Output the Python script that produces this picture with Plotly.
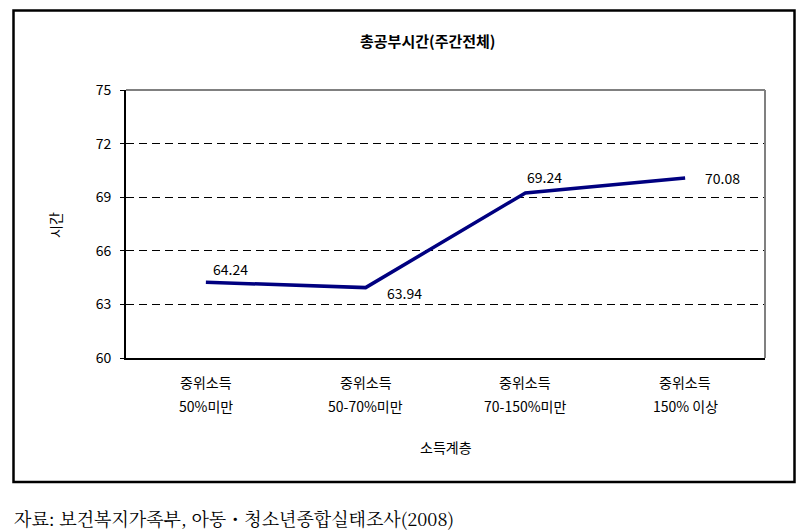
import plotly.graph_objects as go

categories = ["50%미만", "50-70%미만", "70-150%미만", "150% 이상"]
category_prefix = ["중위소득", "중위소득", "중위소득", "중위소득"]
values = [64.24, 63.94, 69.24, 70.08]
label_dx = [25, 39, 19, 37]
label_dy = [13, -5, 16, 0]
y_ticks = [60, 63, 66, 69, 72, 75]

FONT = "Noto Sans CJK KR"

fig = go.Figure()
fig.add_trace(go.Scatter(
    x=categories, y=values, mode="lines",
    line=dict(color="#000080", width=3.5),
    showlegend=False, hoverinfo="skip",
))

for c, v, dx, dy in zip(categories, values, label_dx, label_dy):
    fig.add_annotation(x=c, y=v, text=f"{v:.2f}", showarrow=False,
                       xshift=dx, yshift=dy, xanchor="center", yanchor="middle",
                       font=dict(family=FONT, size=14, color="#000000"))

L, R, T, B = 126, 42, 90, 173
W, H = 807, 531
pw, ph = W - L - R, H - T - B

def px(x):
    return (x - L) / pw

def py(y):
    return (H - B - y) / ph

# two-line category labels
for c, pre in zip(categories, category_prefix):
    fig.add_annotation(x=c, xref="x", yref="paper", y=py(382), text=pre, showarrow=False,
                       xanchor="center", yanchor="middle",
                       font=dict(family=FONT, size=14, color="#000000"))
    fig.add_annotation(x=c, xref="x", yref="paper", y=py(406), text=c, showarrow=False,
                       xanchor="center", yanchor="middle",
                       font=dict(family=FONT, size=14, color="#000000"))

# outer frame
fig.add_shape(type="rect", xref="paper", yref="paper",
              x0=px(13.5), x1=px(794.5), y0=py(482), y1=py(10.5),
              line=dict(color="#000000", width=2.5), layer="below")
# plot area top/right gray border
fig.add_shape(type="line", xref="paper", yref="paper", x0=0, x1=1, y0=1, y1=1,
              line=dict(color="#808080", width=2))
fig.add_shape(type="line", xref="paper", yref="paper", x0=1, x1=1, y0=0, y1=1,
              line=dict(color="#808080", width=2))

fig.add_annotation(xref="paper", yref="paper", x=px(428), y=py(40),
                   xanchor="center", yanchor="middle",
                   text="<b>총공부시간(주간전체)</b>", showarrow=False,
                   font=dict(family=FONT, size=15, color="#000000"))
fig.add_annotation(xref="paper", yref="paper", x=px(55), y=py(225),
                   xanchor="center", yanchor="middle",
                   text="시간", textangle=-90, showarrow=False,
                   font=dict(family=FONT, size=14, color="#000000"))
fig.add_annotation(xref="paper", yref="paper", x=px(446), y=py(447),
                   xanchor="center", yanchor="middle",
                   text="소득계층", showarrow=False,
                   font=dict(family=FONT, size=14, color="#000000"))
fig.add_annotation(xref="paper", yref="paper", x=px(12), y=py(518),
                   xanchor="left", yanchor="middle",
                   text="자료: 보건복지가족부, 아동・청소년종합실태조사(2008)",
                   showarrow=False,
                   font=dict(family="Noto Serif CJK KR, Noto Sans CJK KR", size=18, color="#000000"))

fig.update_xaxes(
    range=[-0.5, 3.5], showline=True, linecolor="#000000", linewidth=2,
    showgrid=False, ticks="", showticklabels=False, fixedrange=True,
)
fig.update_yaxes(
    range=[60, 75], tickvals=y_ticks, showline=True, linecolor="#000000", linewidth=2,
    showgrid=True, gridcolor="#000000", gridwidth=1, griddash="8px,5px",
    ticks="outside", ticklen=4, tickcolor="#000000", ticklabelstandoff=6,
    tickfont=dict(family=FONT, size=14, color="#000000"), zeroline=False,
)

fig.update_layout(
    width=W, height=H, margin=dict(l=L, r=R, t=T, b=B, autoexpand=False),
    plot_bgcolor="#ffffff", paper_bgcolor="#ffffff",
    font=dict(family=FONT),
)

fig.write_html("out.html", config={"displayModeBar": False},
               post_script="document.body.style.margin='0';")
